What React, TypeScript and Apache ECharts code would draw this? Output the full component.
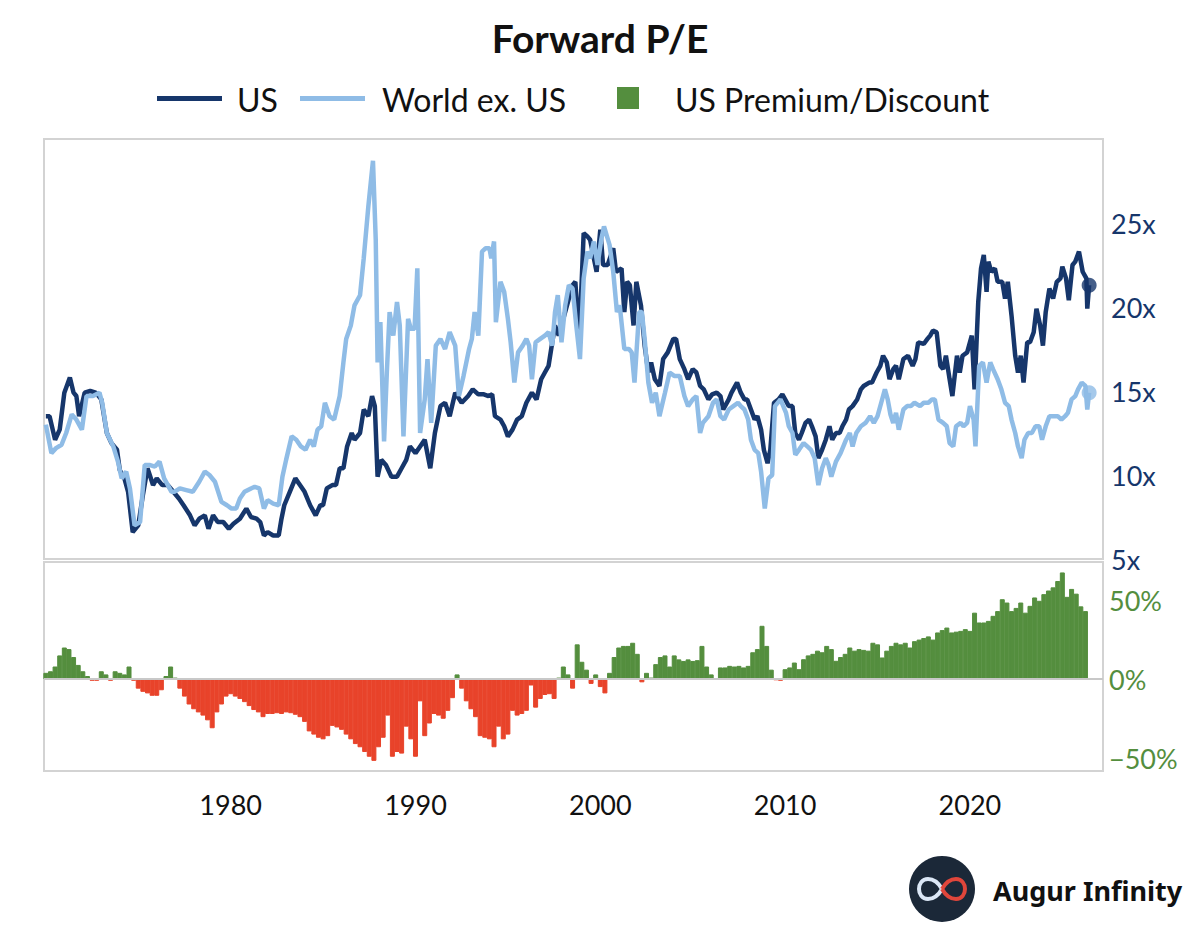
import React, { useEffect, useRef } from "react";
import * as echarts from "echarts";

// ---- Data ----
const title = "Forward P/E";
const seriesNames = ["US", "World ex. US", "US Premium/Discount"];
const xTickYears = [1980, 1990, 2000, 2010, 2020];
const peTicks = [5, 10, 15, 20, 25];
const premiumTicks = [-50, 0, 50];

// [decimal year, forward P/E]
const usPE: [number, number][] = [
  [1970.0, 13.5], [1970.2, 13.5], [1970.5, 12.1], [1970.75, 12.7], [1971.0, 14.9], [1971.3, 15.8],
  [1971.5, 14.9], [1971.65, 14.7], [1971.8, 13.5], [1972.1, 14.9], [1972.4, 15.0], [1972.7, 14.9],
  [1973.0, 14.5], [1973.3, 12.5], [1973.55, 11.9], [1973.85, 11.5], [1974.0, 10.3], [1974.25, 9.8],
  [1974.45, 9.0], [1974.7, 6.6], [1975.0, 7.0], [1975.25, 8.8], [1975.5, 10.4], [1975.8, 9.4],
  [1976.0, 9.8], [1976.3, 9.4], [1976.6, 9.4], [1976.9, 9.0], [1977.2, 8.6], [1977.45, 8.2],
  [1977.8, 7.6], [1978.05, 7.0], [1978.3, 7.4], [1978.6, 7.6], [1978.8, 6.8], [1979.05, 7.6],
  [1979.3, 7.2], [1979.6, 7.2], [1979.9, 6.8], [1980.15, 7.1], [1980.5, 7.4], [1980.85, 8.0],
  [1981.1, 7.5], [1981.4, 7.4], [1981.6, 7.2], [1981.8, 6.4], [1982.0, 6.6], [1982.3, 6.4],
  [1982.6, 6.4], [1982.75, 7.4], [1982.9, 8.2], [1983.2, 9.0], [1983.5, 9.8], [1983.75, 9.4],
  [1984.0, 9.0], [1984.3, 8.2], [1984.6, 7.6], [1984.85, 8.2], [1985.0, 8.2], [1985.2, 9.2],
  [1985.5, 9.4], [1985.7, 9.4], [1985.9, 10.4], [1986.1, 10.4], [1986.3, 11.7], [1986.55, 12.5],
  [1986.7, 12.1], [1987.0, 12.5], [1987.2, 13.9], [1987.45, 13.5], [1987.65, 14.7], [1987.8, 14.1],
  [1987.95, 9.9], [1988.15, 10.9], [1988.4, 10.6], [1988.7, 9.9], [1989.0, 9.9], [1989.25, 10.4],
  [1989.5, 10.9], [1989.7, 11.7], [1990.0, 11.3], [1990.25, 11.7], [1990.5, 12.1], [1990.8, 10.4],
  [1991.05, 12.5], [1991.35, 14.1], [1991.6, 14.3], [1991.85, 13.5], [1992.15, 14.9], [1992.5, 14.3],
  [1992.85, 14.7], [1993.1, 15.1], [1993.4, 14.8], [1993.7, 14.8], [1993.95, 14.7], [1994.15, 14.8],
  [1994.3, 13.5], [1994.6, 13.3], [1994.8, 12.9], [1995.0, 12.3], [1995.25, 12.7], [1995.5, 13.3],
  [1995.75, 13.5], [1996.0, 14.3], [1996.3, 14.9], [1996.55, 14.5], [1996.8, 15.7], [1997.0, 16.1],
  [1997.2, 16.5], [1997.4, 17.9], [1997.55, 18.9], [1997.75, 18.3], [1998.0, 19.3], [1998.3, 20.5],
  [1998.5, 21.3], [1998.65, 21.5], [1998.85, 18.1], [1999.0, 21.7], [1999.1, 24.4], [1999.3, 24.2],
  [1999.45, 24.0], [1999.65, 22.9], [1999.8, 22.1], [2000.0, 24.6], [2000.15, 22.5], [2000.4, 22.5],
  [2000.7, 23.5], [2000.85, 22.1], [2001.15, 22.3], [2001.3, 19.7], [2001.45, 21.5], [2001.6, 21.3],
  [2001.8, 18.9], [2001.95, 21.5], [2002.2, 20.1], [2002.4, 17.7], [2002.6, 16.1], [2002.75, 16.7],
  [2002.95, 15.7], [2003.2, 15.3], [2003.4, 16.9], [2003.65, 17.3], [2003.95, 18.1], [2004.1, 18.1],
  [2004.3, 16.9], [2004.55, 16.3], [2004.75, 15.7], [2005.0, 16.3], [2005.2, 16.1], [2005.4, 15.3],
  [2005.6, 15.1], [2005.85, 14.5], [2006.05, 14.8], [2006.3, 14.9], [2006.5, 14.7], [2006.65, 13.9],
  [2006.95, 14.5], [2007.1, 14.9], [2007.4, 15.5], [2007.6, 14.9], [2007.8, 14.5], [2007.95, 14.5],
  [2008.15, 13.9], [2008.35, 13.3], [2008.5, 13.5], [2008.7, 12.7], [2008.85, 11.5], [2009.05, 10.7],
  [2009.2, 11.5], [2009.4, 14.3], [2009.65, 14.5], [2009.85, 14.8], [2010.0, 14.5], [2010.2, 14.1],
  [2010.4, 14.1], [2010.55, 12.5], [2010.75, 12.1], [2010.9, 12.5], [2011.1, 13.1], [2011.3, 13.3],
  [2011.45, 12.9], [2011.65, 12.3], [2011.8, 11.0], [2012.0, 11.5], [2012.2, 12.1], [2012.4, 12.9],
  [2012.55, 12.1], [2012.75, 12.5], [2012.95, 12.5], [2013.1, 12.9], [2013.3, 13.3], [2013.45, 13.9],
  [2013.65, 14.1], [2013.9, 14.5], [2014.1, 15.1], [2014.25, 15.3], [2014.55, 15.5], [2014.7, 15.5],
  [2014.95, 16.1], [2015.15, 16.5], [2015.3, 17.1], [2015.5, 16.7], [2015.65, 15.7], [2015.85, 16.3],
  [2016.0, 16.5], [2016.15, 15.7], [2016.4, 16.9], [2016.65, 17.1], [2016.9, 16.5], [2017.05, 16.9],
  [2017.2, 17.9], [2017.5, 17.8], [2017.7, 18.1], [2017.85, 18.3], [2018.0, 18.6], [2018.2, 18.5],
  [2018.4, 16.5], [2018.55, 16.3], [2018.7, 17.1], [2018.9, 15.7], [2019.05, 14.7], [2019.3, 17.1],
  [2019.45, 16.1], [2019.6, 17.1], [2019.85, 17.3], [2020.1, 18.3], [2020.25, 15.1], [2020.45, 20.3],
  [2020.6, 22.3], [2020.75, 23.1], [2020.9, 20.9], [2021.0, 22.7], [2021.15, 22.1], [2021.35, 22.3],
  [2021.5, 21.5], [2021.75, 21.5], [2021.9, 20.5], [2022.05, 21.5], [2022.25, 19.5], [2022.45, 17.1],
  [2022.6, 16.1], [2022.75, 17.1], [2022.9, 15.5], [2023.1, 17.9], [2023.25, 17.9], [2023.45, 18.5],
  [2023.6, 19.9], [2023.8, 18.9], [2023.95, 17.7], [2024.1, 19.7], [2024.3, 21.1], [2024.5, 20.5],
  [2024.7, 21.5], [2024.9, 21.7], [2025.0, 22.4], [2025.2, 21.7], [2025.35, 20.4], [2025.55, 22.5],
  [2025.7, 22.7], [2025.9, 23.3], [2026.1, 22.1], [2026.3, 21.7], [2026.35, 19.9], [2026.45, 21.3],
];

const worldPE: [number, number][] = [
  [1970.0, 13.0], [1970.3, 11.3], [1970.55, 11.6], [1970.85, 11.8], [1971.1, 12.5], [1971.4, 13.6],
  [1971.65, 13.3], [1971.95, 12.7], [1972.2, 14.7], [1972.55, 14.7], [1972.9, 14.9], [1973.05, 14.3],
  [1973.3, 12.5], [1973.65, 11.7], [1973.9, 10.8], [1974.1, 9.8], [1974.35, 10.2], [1974.55, 9.2],
  [1974.8, 7.0], [1975.1, 7.2], [1975.35, 10.6], [1975.6, 10.6], [1975.9, 10.5], [1976.15, 10.8],
  [1976.4, 9.8], [1976.8, 9.0], [1976.95, 9.0], [1977.25, 9.2], [1977.6, 9.1], [1977.95, 9.0],
  [1978.3, 9.6], [1978.6, 10.2], [1978.85, 10.0], [1979.15, 9.6], [1979.5, 8.4], [1979.8, 8.2],
  [1980.05, 8.0], [1980.3, 8.0], [1980.5, 8.6], [1980.75, 9.0], [1981.1, 9.2], [1981.3, 9.3],
  [1981.55, 9.2], [1981.8, 8.0], [1982.0, 8.5], [1982.3, 8.3], [1982.6, 8.2], [1982.8, 9.9],
  [1983.0, 10.9], [1983.3, 12.3], [1983.55, 12.1], [1983.8, 11.7], [1984.05, 11.5], [1984.3, 12.1],
  [1984.5, 11.7], [1984.7, 12.7], [1984.9, 12.9], [1985.1, 14.3], [1985.35, 13.5], [1985.6, 13.3],
  [1985.9, 14.7], [1986.1, 16.7], [1986.25, 18.1], [1986.5, 18.9], [1986.7, 20.1], [1987.0, 20.7],
  [1987.2, 22.9], [1987.45, 26.0], [1987.7, 28.7], [1987.85, 24.0], [1987.95, 16.7], [1988.1, 19.1],
  [1988.3, 12.0], [1988.45, 16.1], [1988.6, 19.7], [1988.8, 18.3], [1989.0, 20.3], [1989.15, 18.9],
  [1989.35, 12.3], [1989.6, 19.3], [1989.75, 18.7], [1989.95, 18.7], [1990.1, 22.3], [1990.25, 12.5],
  [1990.5, 14.5], [1990.65, 16.9], [1990.85, 13.1], [1991.1, 17.7], [1991.35, 18.1], [1991.6, 17.5],
  [1991.85, 18.5], [1992.15, 17.7], [1992.35, 14.7], [1992.6, 15.9], [1992.9, 17.5], [1993.05, 18.1],
  [1993.2, 19.7], [1993.4, 18.3], [1993.6, 23.3], [1993.8, 23.5], [1994.0, 23.5], [1994.1, 22.9],
  [1994.25, 23.9], [1994.35, 19.1], [1994.6, 21.5], [1994.8, 20.9], [1995.0, 19.3], [1995.15, 17.9],
  [1995.35, 15.5], [1995.55, 17.3], [1995.8, 17.7], [1996.0, 18.1], [1996.15, 17.7], [1996.3, 15.7],
  [1996.5, 17.9], [1996.75, 18.1], [1997.0, 18.3], [1997.2, 18.5], [1997.4, 17.7], [1997.55, 19.7],
  [1997.7, 20.7], [1997.9, 17.9], [1998.1, 20.1], [1998.3, 21.3], [1998.5, 21.1], [1998.7, 18.9],
  [1998.9, 16.9], [1999.1, 21.7], [1999.3, 23.3], [1999.45, 22.9], [1999.65, 23.9], [1999.85, 22.5],
  [2000.05, 24.0], [2000.2, 24.8], [2000.5, 23.7], [2000.7, 22.1], [2000.9, 19.7], [2001.05, 20.1],
  [2001.3, 17.5], [2001.55, 17.5], [2001.7, 17.3], [2001.85, 15.5], [2002.1, 19.7], [2002.25, 19.7],
  [2002.4, 18.1], [2002.6, 15.5], [2002.8, 14.3], [2003.0, 14.9], [2003.2, 13.5], [2003.5, 14.9],
  [2003.75, 16.1], [2004.0, 15.9], [2004.3, 15.9], [2004.55, 14.7], [2004.75, 14.1], [2005.0, 14.5],
  [2005.2, 14.7], [2005.4, 12.5], [2005.55, 13.1], [2005.85, 13.5], [2006.1, 14.3], [2006.3, 14.5],
  [2006.5, 13.5], [2006.7, 13.3], [2006.95, 13.9], [2007.2, 14.1], [2007.45, 14.3], [2007.6, 14.1],
  [2007.8, 13.9], [2008.0, 13.3], [2008.15, 12.1], [2008.35, 11.5], [2008.55, 11.3], [2008.7, 10.2],
  [2008.9, 8.0], [2009.1, 9.8], [2009.3, 10.0], [2009.45, 14.1], [2009.75, 14.5], [2010.05, 13.7],
  [2010.2, 12.9], [2010.4, 12.5], [2010.55, 11.2], [2010.75, 11.5], [2011.0, 11.9], [2011.2, 11.7],
  [2011.4, 11.5], [2011.6, 11.0], [2011.8, 9.4], [2012.0, 10.4], [2012.2, 11.0], [2012.35, 10.6],
  [2012.5, 9.9], [2012.75, 10.8], [2013.0, 11.3], [2013.3, 12.1], [2013.5, 12.5], [2013.65, 11.7],
  [2013.85, 12.5], [2014.1, 12.9], [2014.35, 13.1], [2014.6, 13.5], [2014.8, 13.1], [2015.0, 13.5],
  [2015.2, 14.3], [2015.4, 15.1], [2015.55, 14.5], [2015.7, 13.6], [2015.85, 13.1], [2016.0, 13.7],
  [2016.15, 12.7], [2016.4, 13.9], [2016.6, 14.1], [2016.8, 14.1], [2017.0, 14.3], [2017.3, 14.1],
  [2017.5, 14.3], [2017.75, 14.3], [2017.95, 14.5], [2018.1, 14.5], [2018.3, 13.3], [2018.55, 13.1],
  [2018.75, 12.9], [2018.9, 11.9], [2019.1, 11.7], [2019.25, 12.9], [2019.5, 13.1], [2019.65, 12.9],
  [2019.85, 13.1], [2020.0, 14.1], [2020.2, 13.3], [2020.3, 11.7], [2020.5, 16.5], [2020.7, 16.7],
  [2020.9, 15.5], [2021.1, 16.7], [2021.25, 16.3], [2021.5, 15.7], [2021.7, 15.1], [2021.9, 14.3],
  [2022.1, 14.1], [2022.25, 13.3], [2022.45, 12.5], [2022.6, 11.7], [2022.8, 11.0], [2022.95, 12.1],
  [2023.15, 12.5], [2023.35, 12.5], [2023.55, 12.9], [2023.75, 12.9], [2023.9, 12.1], [2024.1, 12.9],
  [2024.3, 13.5], [2024.55, 13.5], [2024.75, 13.5], [2024.95, 13.3], [2025.15, 13.5], [2025.3, 13.7],
  [2025.5, 14.5], [2025.7, 14.7], [2025.85, 15.1], [2026.05, 15.5], [2026.25, 15.3], [2026.35, 13.9],
  [2026.45, 14.9],
];

// Quarterly US premium / discount (%), first quarter = 1970 Q1
const premiumStartYear = 1970;
const premiumPct: number[] = [
  4, 5, 8, 15, 20, 19, 14, 9, 5, 2, -1, -1, 5, 3, -1, 5, 4, 3, 8, -1,
  -6, -8, -9, -10.5, -10.5, -7, 2, 8, 1, -6, -11, -16, -19, -21, -23, -26, -31, -21, -16, -11,
  -9.5, -11, -12.5, -14.5, -17, -19.5, -21, -24, -22, -22, -21.5, -22, -21, -21.5, -22.5, -24,
  -27, -33, -35, -37, -38, -36, -29.5, -30.5, -32, -35, -38, -41, -43, -46, -49, -51.6,
  -43, -37, -23, -49, -46, -47, -30, -38, -49, -14, -36, -28, -22, -23, -25, -20,
  -12, 3, -6, -14, -19, -24, -36, -37, -38, -43, -30, -38, -35, -20, -23, -22,
  -20, -4, -18, -12.5, -10, -9.5, -12.5, 1, 8, 3, -6, 22, 11, 6, -3, 3,
  -5, -9, 4, 14, 20, 21, 21, 23, 16, -2, 4, 1, 9.5, 14, 15, 8, 15, 12.5, 11.5, 12.5,
  11.5, 12, 21, 8, 3, 0.5, 7.4, 7.4, 8.4, 8, 8.4, 7.4, 8.4, 17, 19, 33.7, 21, 6, -0.6, -1,
  6.3, 7.4, 10.5, 6.3, 12.6, 15, 16, 18, 17, 21, 19, 11.6, 14, 16, 20, 18, 19, 18.5, 18, 23,
  22, 13.7, 18, 21, 23, 22, 23, 20, 24, 25, 26, 27, 25, 29.5, 31, 32.6, 29.5, 30, 30.5, 31.6,
  30.5, 42, 35.8, 35.8, 36.8, 40, 43, 50.5, 48.4, 43, 45, 48.4, 42, 46.3, 51.6, 49.5,
  53.7, 56, 58, 62, 67.4, 52, 57, 54, 46, 43,
];

const NAVY = "#16366b";
const LIGHT = "#8fbce6";
const GREEN = "#548e3e";
const RED = "#e8432a";
const BORDER = "#d3d3d3";
const FONT = "Lato";

// logo glyph: two loops of an infinity sign
echarts.graphic.registerShape(
  "infLeft",
  echarts.graphic.extendPath("M0,0 C-4,-7 -9,-10 -14,-10 C-20,-10 -23,-5 -23,0 C-23,5 -20,10 -14,10 C-9,10 -4,7 0,0", {})
);
echarts.graphic.registerShape(
  "infRight",
  echarts.graphic.extendPath("M0,0 C4,-7 9,-10 14,-10 C20,-10 23,-5 23,0 C23,5 20,10 14,10 C9,10 4,7 0,0", {})
);

export default function App() {
  const ref = useRef<HTMLDivElement>(null);

  useEffect(() => {
    if (!ref.current) return;
    const chart = echarts.init(ref.current, undefined, { renderer: "svg" });

    const premiumData = premiumPct.map((v, i) => {
      const c = v >= 0 ? GREEN : RED;
      return {
        value: [premiumStartYear + i * 0.25, v],
        itemStyle: { color: c, borderColor: c, borderWidth: 1 },
      };
    });
    const usLast = usPE[usPE.length - 1];
    const worldLast = worldPE[worldPE.length - 1];

    const xMin = 1969.9;
    const xMax = 2027.2;

    chart.setOption({
      animation: false,
      backgroundColor: "#ffffff",
      textStyle: { fontFamily: FONT },
      title: {
        text: title,
        left: "center",
        top: 13,
        textStyle: { fontFamily: FONT, fontWeight: "bold", fontSize: 39, color: "#111111" },
      },
      grid: [
        { left: 44, right: 97, top: 139, height: 420, show: true, borderColor: BORDER, borderWidth: 2, backgroundColor: "transparent" },
        { left: 44, right: 97, top: 562, height: 209, show: true, borderColor: BORDER, borderWidth: 2, backgroundColor: "transparent" },
      ],
      xAxis: [
        { gridIndex: 0, type: "value", min: xMin, max: xMax, show: false },
        {
          gridIndex: 1, type: "value", min: xMin, max: xMax,
          axisLine: { show: false }, axisTick: { show: false }, splitLine: { show: false },
          axisLabel: {
            customValues: xTickYears,
            fontSize: 27, color: "#111111", fontFamily: FONT, margin: 20,
            formatter: (v: number) => String(Math.round(v)),
          },
        },
      ],
      yAxis: [
        {
          gridIndex: 0, type: "value", position: "right", min: 5, max: 30, interval: 5,
          axisLine: { show: false }, axisTick: { show: false }, splitLine: { show: false },
          axisLabel: {
            customValues: peTicks,
            fontSize: 27, color: NAVY, fontFamily: FONT, margin: 8,
            formatter: (v: number) => `${v}x`,
          },
        },
        {
          gridIndex: 1, type: "value", position: "right", min: -58, max: 74,
          axisLine: { show: false }, axisTick: { show: false }, splitLine: { show: false },
          axisLabel: {
            customValues: premiumTicks,
            fontSize: 27, color: GREEN, fontFamily: FONT, margin: 6,
            formatter: (v: number) => (v < 0 ? "\u2212" : "") + Math.abs(v) + "%",
          },
        },
      ],
      series: [
        {
          name: seriesNames[0], type: "line", xAxisIndex: 0, yAxisIndex: 0,
          data: usPE, showSymbol: false, lineStyle: { color: NAVY, width: 4.5 }, itemStyle: { color: NAVY }, z: 3,
        },
        {
          name: seriesNames[1], type: "line", xAxisIndex: 0, yAxisIndex: 0,
          data: worldPE, showSymbol: false, lineStyle: { color: LIGHT, width: 4.5 }, itemStyle: { color: LIGHT }, z: 4,
        },
        {
          type: "scatter", xAxisIndex: 0, yAxisIndex: 0, data: [usLast], symbolSize: 15,
          itemStyle: { color: NAVY }, z: 5, silent: true,
        },
        {
          type: "scatter", xAxisIndex: 0, yAxisIndex: 0, data: [worldLast], symbolSize: 15,
          itemStyle: { color: LIGHT }, z: 5, silent: true,
        },
        {
          name: seriesNames[2], type: "bar", xAxisIndex: 1, yAxisIndex: 1,
          data: premiumData, barWidth: 5,
          markLine: {
            silent: true, symbol: "none", label: { show: false },
            lineStyle: { color: "#c8c8c8", width: 2, type: "solid" },
            data: [{ yAxis: 0 }],
          },
        },
      ],
      graphic: [
        // legend
        { type: "rect", shape: { x: 157, y: 96, width: 65, height: 5 }, style: { fill: NAVY } },
        { type: "text", x: 237, y: 99, style: { text: seriesNames[0], font: `32px ${FONT}`, fill: "#111", textVerticalAlign: "middle" } },
        { type: "rect", shape: { x: 300, y: 96, width: 65, height: 5 }, style: { fill: LIGHT } },
        { type: "text", x: 382, y: 99, style: { text: seriesNames[1], font: `32px ${FONT}`, fill: "#111", textVerticalAlign: "middle" } },
        { type: "rect", shape: { x: 617, y: 87, width: 22, height: 22 }, style: { fill: GREEN } },
        { type: "text", x: 675, y: 99, style: { text: seriesNames[2], font: `32px ${FONT}`, fill: "#111", textVerticalAlign: "middle" } },
        // logo
        { type: "circle", shape: { cx: 942, cy: 889, r: 33 }, style: { fill: "#1b2838" } },
        { type: "infLeft", x: 942, y: 889, style: { fill: "none", stroke: "#dbe7f6", lineWidth: 4 } },
        { type: "infRight", x: 942, y: 889, style: { fill: "none", stroke: "#e0463b", lineWidth: 4 } },
        { type: "text", x: 993, y: 890, style: { text: "Augur Infinity", font: `bold 27px "Noto Sans"`, fill: "#111", textVerticalAlign: "middle" } },
      ],
    });

    return () => chart.dispose();
  }, []);

  return (
    <div
      ref={ref}
      style={{ position: "absolute", left: 0, top: 0, width: 1200, height: 937, background: "#fff" }}
    />
  );
}
